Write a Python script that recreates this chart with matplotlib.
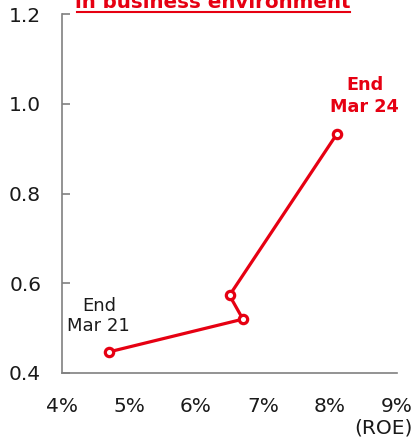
import matplotlib
matplotlib.use("Agg")
import matplotlib.pyplot as plt
from matplotlib.lines import Line2D

# ROE (%) vs. ratio, quarterly path
roe = [4.7, 6.7, 6.5, 8.1]
ratio = [0.447, 0.520, 0.573, 0.932]
x_ticks = [4, 5, 6, 7, 8, 9]
x_labels = ["4%", "5%", "6%", "7%", "8%", "9%"]
y_ticks = [0.4, 0.6, 0.8, 1.0, 1.2]
y_labels = ["0.4", "0.6", "0.8", "1.0", "1.2"]
start_label = "End\nMar 21"
end_label = "End\nMar 24"
title_text = "in business environment"

RED = "#e60012"
GRAY = "#808080"
TXT = "#1a1a1a"

plt.rcParams["font.family"] = ["DejaVu Sans"]

fig = plt.figure(figsize=(4.16, 4.44), dpi=100)
W, H = 416, 444
ax = fig.add_axes([62 / W, 1 - 373 / H, (397 - 62) / W, (373 - 14) / H])

ax.plot(roe, ratio, color=RED, lw=2.3, marker="o", ms=6,
        mfc="white", mec=RED, mew=2.3, zorder=3, clip_on=False)

ax.set_xlim(4, 9)
ax.set_ylim(0.4, 1.2)
ax.set_xticks(x_ticks)
ax.set_xticklabels(x_labels)
ax.set_yticks(y_ticks)
ax.set_yticklabels(y_labels)

for s in ["top", "right"]:
    ax.spines[s].set_visible(False)
for s in ["left", "bottom"]:
    ax.spines[s].set_color(GRAY)
    ax.spines[s].set_linewidth(1.2)

ax.tick_params(axis="y", direction="in", length=6, width=1.2, color=GRAY,
               labelsize=14.5, pad=15, labelcolor=TXT)
ax.tick_params(axis="x", length=0, labelsize=14.5, pad=17, labelcolor=TXT)

ax.text(4.55, 0.527, start_label, ha="center", va="center", fontsize=13,
        color=TXT, linespacing=1.2)
ax.text(8.52, 1.018, end_label, ha="center", va="center", fontsize=12.7,
        color=RED, fontweight="bold", linespacing=1.3)

fig.text(413 / W, 1 - 428 / H, "(ROE)", ha="right", va="center",
         fontsize=14.5, color=TXT)

# Title, partly above the top edge, with underline
fig.text(213 / W, 1 - 8 / H, title_text, ha="center", va="baseline",
         fontsize=14.3, fontweight="bold", color=RED)
fig.add_artist(Line2D([77 / W, 350 / W], [1 - 12 / H, 1 - 12 / H],
                      color=RED, lw=1.5, transform=fig.transFigure))

fig.savefig("out.png", dpi=100)
